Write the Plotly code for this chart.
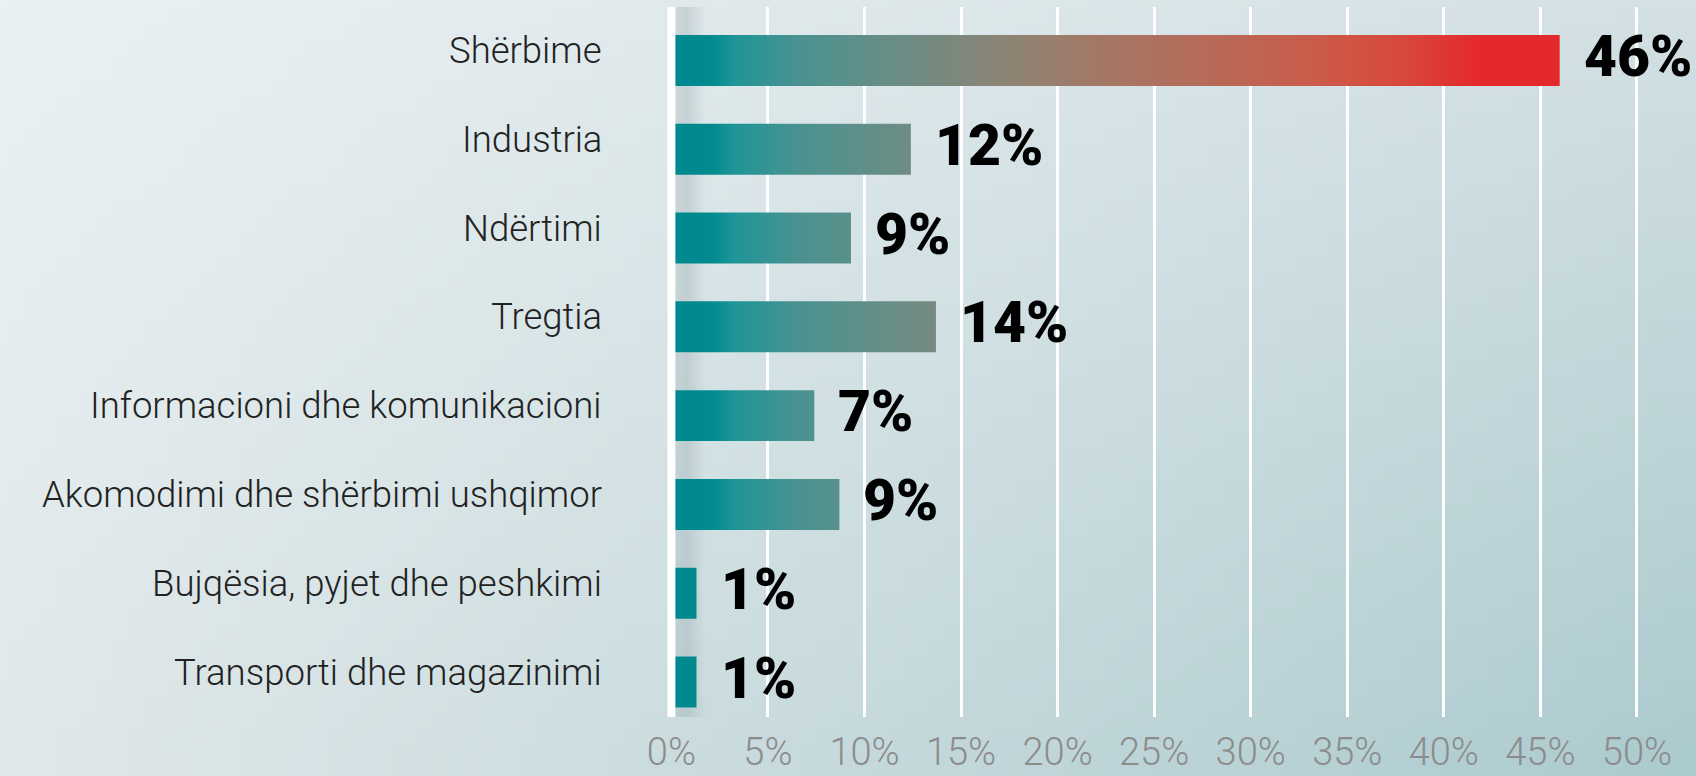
import base64, struct, zlib
import numpy as np
import plotly.graph_objects as go

# ---------------- data ----------------
categories = [
    "Shërbime",
    "Industria",
    "Ndërtimi",
    "Tregtia",
    "Informacioni dhe komunikacioni",
    "Akomodimi dhe shërbimi ushqimor",
    "Bujqësia, pyjet dhe peshkimi",
    "Transporti dhe magazinimi",
]
values = [46.0, 12.4, 9.3, 13.7, 7.4, 8.7, 1.3, 1.3]
x_ticks = [0, 5, 10, 15, 20, 25, 30, 35, 40, 45, 50]
x_tick_labels = [f"{t}%" for t in x_ticks]

# ---------------- layout geometry ----------------
W, H = 1696, 776
M_L, M_R, M_T, M_B = 660, 16, 7, 59
X_RANGE = [-0.59, 52.23]
Y_RANGE = [7.394, -0.602]
BAR_HALF = 0.287

FONT = "Roboto, Liberation Sans, sans-serif"

# gradient along the x axis (data coordinates 0 .. max value)
grad_stop = max(values)
bar_scale = [
    [0.0, "#008a90"],
    [0.045, "#008a90"],
    [0.07, "#1e9597"],
    [0.143, "#4a9290"],
    [0.257, "#6b8d85"],
    [0.37, "#8a8475"],
    [0.463, "#a07a68"],
    [0.709, "#c85e4c"],
    [0.82, "#d8493c"],
    [0.907, "#e4292c"],
    [1.0, "#e4292c"],
]


def png_uri(arr):
    h, w, _ = arr.shape
    raw = b"".join(b"\x00" + arr[r].tobytes() for r in range(h))

    def chunk(tag, data):
        c = struct.pack(">I", len(data)) + tag + data
        return c + struct.pack(">I", zlib.crc32(tag + data) & 0xFFFFFFFF)

    png = b"\x89PNG\r\n\x1a\n" + chunk(b"IHDR", struct.pack(">IIBBBBB", w, h, 8, 2, 0, 0, 0))
    png += chunk(b"IDAT", zlib.compress(raw, 9)) + chunk(b"IEND", b"")
    return "data:image/png;base64," + base64.b64encode(png).decode()


# background gradient (bilinear between corner colours)
gw, gh = 96, 44
u = np.linspace(0, 1, gw)[None, :, None]
v = np.linspace(0, 1, gh)[:, None, None]
tl = np.array([234, 241, 243.0]); tr = np.array([211, 224, 228.0])
bl = np.array([224, 232, 234.0]); br = np.array([172, 203, 207.0])
bg = (1 - v) * ((1 - u) * tl + u * tr) + v * ((1 - u) * bl + u * br)
bg_uri = png_uri(np.clip(bg, 0, 255).astype(np.uint8))

fig = go.Figure()

# soft shadow right of the zero line
fig.add_trace(go.Scatter(
    x=[0, 1.8, 1.8, 0, 0],
    y=[Y_RANGE[0] + 0.3, Y_RANGE[0] + 0.3, Y_RANGE[1], Y_RANGE[1], Y_RANGE[0] + 0.3],
    mode="lines", line=dict(width=0), fill="toself",
    fillgradient=dict(type="horizontal", start=0, stop=1.8,
                      colorscale=[[0, "rgba(130,145,150,0.18)"], [0.45, "rgba(130,145,150,0.26)"],
                                  [1, "rgba(130,145,150,0)"]]),
    hoverinfo="skip", showlegend=False,
))

# bars as gradient-filled rectangles
for i, (cat, val) in enumerate(zip(categories, values)):
    y0, y1 = i - BAR_HALF, i + BAR_HALF
    fig.add_trace(go.Scatter(
        x=[0, val, val, 0, 0], y=[y0, y0, y1, y1, y0],
        mode="lines", line=dict(width=0), fill="toself",
        fillgradient=dict(type="horizontal", start=0, stop=grad_stop, colorscale=bar_scale),
        name=cat, hoverinfo="skip", showlegend=False,
    ))

annotations = []
for i, (cat, val) in enumerate(zip(categories, values)):
    annotations.append(dict(
        x=0, xref="paper", y=i, yref="y", xanchor="right", yanchor="middle",
        xshift=-56, yshift=10, text=cat, showarrow=False,
        font=dict(family=FONT, size=36.5, color="#222222", weight=300),
    ))
    annotations.append(dict(
        x=val, xref="x", y=i, yref="y", xanchor="left", yanchor="middle",
        xshift=22, yshift=4, text=f"{val:.0f}%", showarrow=False,
        font=dict(family=FONT, size=57, color="#000000", weight=900),
    ))

fig.update_layout(
    width=W, height=H,
    margin=dict(l=M_L, r=M_R, t=M_T, b=M_B, pad=0, autoexpand=False),
    paper_bgcolor="rgba(0,0,0,0)", plot_bgcolor="rgba(0,0,0,0)",
    showlegend=False,
    annotations=annotations,
    images=[dict(
        source=bg_uri, xref="paper", yref="paper",
        x=-M_L / (W - M_L - M_R), y=1 + M_T / (H - M_T - M_B),
        sizex=W / (W - M_L - M_R), sizey=H / (H - M_T - M_B),
        xanchor="left", yanchor="top", sizing="stretch", layer="below",
    )],
    shapes=[dict(
        type="line", xref="x", yref="paper", x0=0, x1=0, y0=0, y1=1,
        line=dict(color="#ffffff", width=8), layer="above",
    )],
    xaxis=dict(
        range=X_RANGE, tickvals=x_ticks, ticktext=x_tick_labels,
        showgrid=True, gridcolor="#ffffff", gridwidth=2.5,
        zeroline=False, showline=False, ticks="",
        ticklabelstandoff=9, automargin=False,
        tickfont=dict(family=FONT, size=38, color="#8c8c8c", weight=300),
        fixedrange=True,
    ),
    yaxis=dict(
        range=Y_RANGE, showgrid=False, zeroline=False, showline=False,
        showticklabels=False, ticks="", fixedrange=True, automargin=False,
    ),
)

fig.write_html(
    "out.html",
    config={"displayModeBar": False},
    post_script="document.body.style.margin='0';",
)
